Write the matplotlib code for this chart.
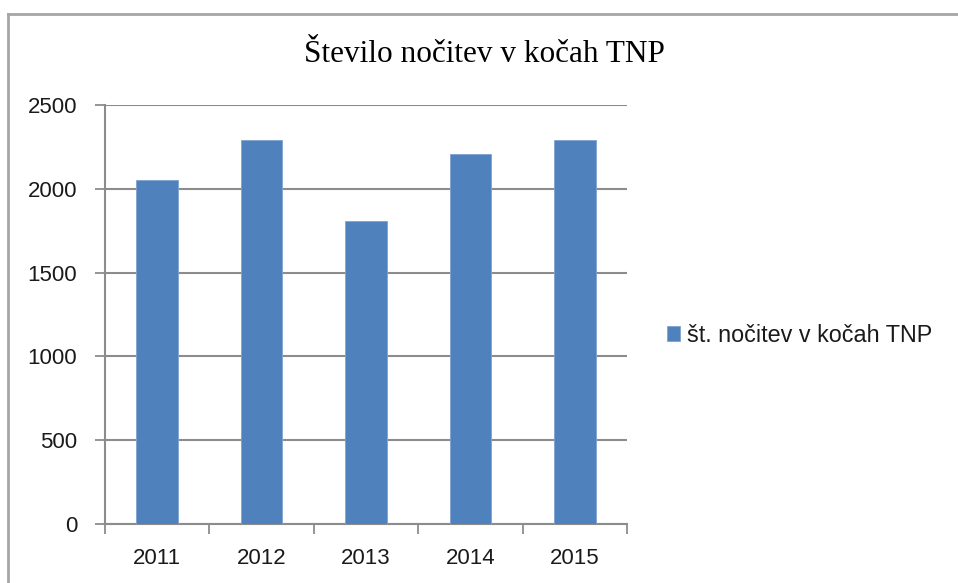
import matplotlib
matplotlib.use("Agg")
import matplotlib.pyplot as plt
from matplotlib.lines import Line2D

# Podatki
leta = ["2011", "2012", "2013", "2014", "2015"]
nocitve = [2050, 2290, 1810, 2210, 2290]
naslov = "Število nočitev v kočah TNP"
legenda = "št. nočitev v kočah TNP"
y_ticks = [0, 500, 1000, 1500, 2000, 2500]

plt.rcParams["font.family"] = ["Liberation Sans", "DejaVu Sans"]

fig = plt.figure(figsize=(9.58, 5.83), dpi=100)
ax = fig.add_axes([0.1096, 0.1012, 0.5449, 0.7187])

grid_col = "#8c8c8c"
x = list(range(len(leta)))
ax.bar(x, nocitve, width=0.4, color="#4f81bd", edgecolor="#7fa3d0",
       linewidth=0.6, label=legenda, zorder=3)

ax.set_xlim(-0.5, len(leta) - 0.5)
ax.set_ylim(0, 2500)
ax.set_yticks(y_ticks)
ax.set_yticklabels([str(v) for v in y_ticks])
ax.yaxis.grid(True, color=grid_col, linewidth=1.5, zorder=0)

# oznake kategorij na sredini, kljukice na mejah
ax.set_xticks(x)
ax.set_xticklabels(leta)
ax.set_xticks([i - 0.5 for i in range(len(leta) + 1)], minor=True)
ax.tick_params(axis="x", which="major", length=0, pad=17, labelsize=16,
               labelcolor="#1a1a1a")
ax.tick_params(axis="x", which="minor", length=7, width=1.3, color=grid_col)
ax.tick_params(axis="y", length=7, width=1.3, color=grid_col, pad=13,
               labelsize=16, labelcolor="#1a1a1a")

for s in ["top", "right"]:
    ax.spines[s].set_visible(False)
for s in ["left", "bottom"]:
    ax.spines[s].set_color(grid_col)
    ax.spines[s].set_linewidth(1.5)

fig.text(0.506, 0.8937, naslov, ha="center", va="baseline",
         fontsize=22.5, family=["Liberation Serif", "DejaVu Serif"])

leg = ax.legend(loc="center left", bbox_to_anchor=(0.696, 0.425),
                bbox_transform=fig.transFigure, frameon=False, fontsize=16.8,
                handlelength=0.55, handleheight=0.55, handletextpad=0.3,
                borderpad=0, borderaxespad=0)
for t in leg.get_texts():
    t.set_color("#1a1a1a")

# okvir grafikona (odrezan desno in spodaj)
W, H = 958, 583
fig.add_artist(Line2D([8 / W, 1], [1 - 14 / H, 1 - 14 / H], color="#a6a6a6",
                      linewidth=2, transform=fig.transFigure))
fig.add_artist(Line2D([8 / W, 8 / W], [0, 1 - 14 / H], color="#a6a6a6",
                      linewidth=2, transform=fig.transFigure))

fig.savefig("out.png", dpi=100)
